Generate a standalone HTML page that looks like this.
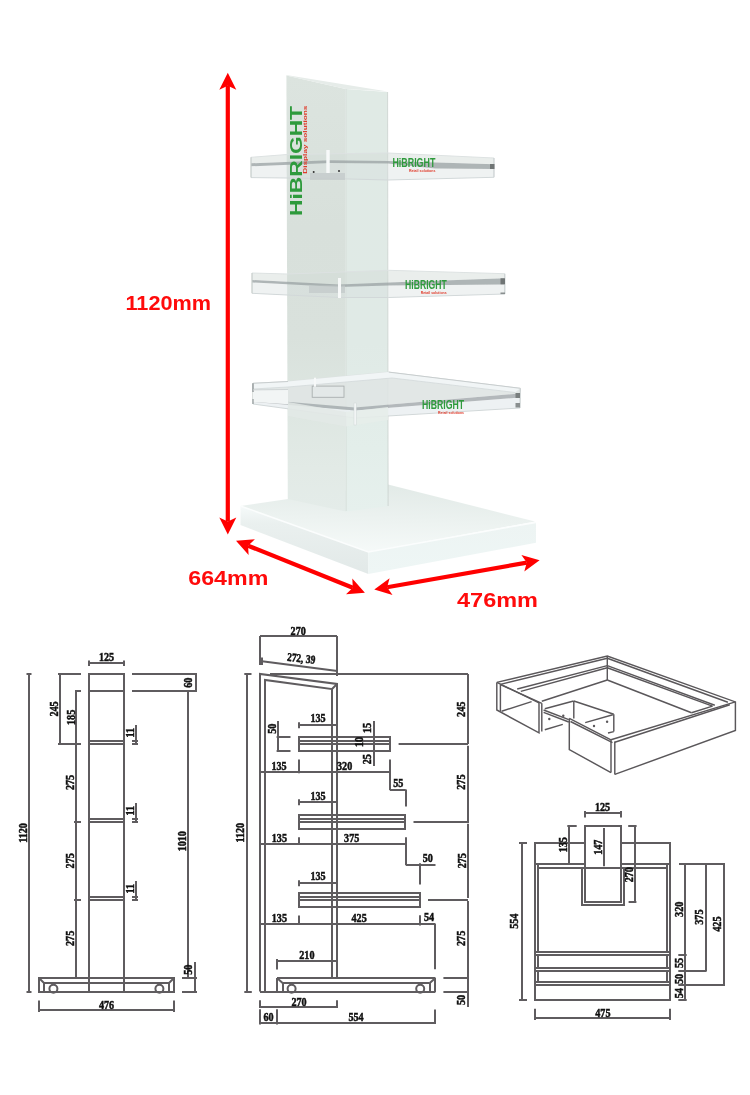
<!DOCTYPE html>
<html><head><meta charset="utf-8">
<style>
html,body{margin:0;padding:0;background:#fff;}
body{width:750px;height:1095px;overflow:hidden;font-family:"Liberation Sans",sans-serif;}
svg{display:block;will-change:transform;}
.ln{stroke:#5f5c5f;stroke-width:2;fill:none;}
.tn{stroke:#5a575a;stroke-width:1.45;fill:none;}
.t{font-family:"Liberation Serif",serif;font-weight:bold;font-size:11.8px;fill:#111;stroke:#111;stroke-width:0.5px;}
.r{font-family:"Liberation Sans",sans-serif;font-weight:bold;font-size:20px;fill:#ff0b0b;}
</style></head>
<body>
<svg width="750" height="1095" viewBox="0 0 750 1095">

<defs>
<linearGradient id="gL" x1="0" y1="0" x2="0" y2="1">
<stop offset="0" stop-color="#dce4df"/><stop offset="0.35" stop-color="#d8e0db"/><stop offset="0.6" stop-color="#d9e1dc"/><stop offset="0.75" stop-color="#dde6e1"/><stop offset="0.9" stop-color="#e2eae6"/><stop offset="1" stop-color="#e4ece9"/>
</linearGradient>
<linearGradient id="gR" x1="0" y1="0" x2="0" y2="1">
<stop offset="0" stop-color="#e0eae5"/><stop offset="0.6" stop-color="#e0eae6"/><stop offset="0.85" stop-color="#e3eeea"/><stop offset="1" stop-color="#e6f0ed"/>
</linearGradient>
<linearGradient id="gBL" x1="0" y1="0" x2="0" y2="1">
<stop offset="0" stop-color="#f6fafa"/><stop offset="0.25" stop-color="#eaf0ef"/><stop offset="1" stop-color="#e2e9e8"/>
</linearGradient>
<linearGradient id="gBR" x1="0" y1="0" x2="0" y2="1">
<stop offset="0" stop-color="#edf4f3"/><stop offset="1" stop-color="#eef6f5"/>
</linearGradient>
<linearGradient id="gBT" x1="0.5" y1="0" x2="0.35" y2="1">
<stop offset="0" stop-color="#e2eae7"/><stop offset="0.5" stop-color="#ecf2f0"/><stop offset="1" stop-color="#f6faf9"/>
</linearGradient>
</defs>
<polygon points="240.5,506 288,499 388,484.4 535,521.5 368.4,552" fill="url(#gBT)"/>
<polygon points="240.5,506 368.4,552 368.4,574 240.5,525" fill="url(#gBL)"/>
<polygon points="368.4,552 536,522.4 536,542.7 368.4,574" fill="url(#gBR)"/>
<polyline points="240.5,506 368.4,552 536,522.4" stroke="#fbfdfd" stroke-width="1.5" fill="none"/>
<polygon points="286.4,75.4 345.8,89 345.8,511.6 287.8,499" fill="url(#gL)"/>
<polygon points="345.8,89 387.5,92 388.1,506.3 345.8,511.6" fill="url(#gR)"/>
<polygon points="286.4,75 387.5,91.4 345.8,89 286.4,75.4" fill="#e6ece9"/>
<line x1="346.2" y1="89" x2="346.2" y2="511" stroke="#dae2de" stroke-width="1.2"/>
<line x1="387.6" y1="92" x2="388.1" y2="506" stroke="#c9d1cd" stroke-width="0.8"/>

<polygon points="251,157.3 287,154.5 388,153 494,158 494,164.3 388,161 330,160.3 251,163.3" fill="#d3dbd7" fill-opacity="0.47"/>
<polygon points="251,166.3 330,163 388,163.5 435,168.5 494,169 494,177.3 388,180 330,178.5 251,177.6" fill="#d6dedf" fill-opacity="0.4"/>
<polygon points="251,163.3 330,160.3 388,161 494,164.3 494,169 435,168.5 388,163.5 330,163 251,166.3" fill="#a0a8a9" fill-opacity="0.85"/>
<polyline points="251,177.6 330,178.5 388,180 494,177.3" stroke="#d2d8d9" stroke-width="1" fill="none"/>
<polyline points="251,157.3 287,154.5 388,153 494,158" stroke="#dde2e2" stroke-width="1" fill="none"/>
<line x1="251" y1="157.3" x2="251" y2="177.6" stroke="#c5cbc9" stroke-width="1.2"/>
<line x1="494" y1="158" x2="494" y2="177.3" stroke="#c9cfd0" stroke-width="1.2"/>
<polygon points="252,273 287,274 388.7,270.3 504.8,273.7 504.8,278.3 388.7,282.5 339,284.5 252,280" fill="#d3dbd7" fill-opacity="0.47"/>
<polygon points="252,282.5 339,287 388.7,285.5 504.8,284.5 504.8,294 388.7,297.5 339,297.5 252,293.3" fill="#d6dedf" fill-opacity="0.4"/>
<polygon points="252,280 339,284.5 388.7,282.5 504.8,278.3 504.8,284.5 388.7,285.5 339,287 252,282.5" fill="#a0a8a9" fill-opacity="0.85"/>
<polyline points="252,293.3 339,297.5 388.7,297.5 504.8,294" stroke="#d2d8d9" stroke-width="1" fill="none"/>
<polyline points="252,273 287,274 388.7,270.3 504.8,273.7" stroke="#dde2e2" stroke-width="1" fill="none"/>
<line x1="252" y1="273" x2="252" y2="293.3" stroke="#c5cbc9" stroke-width="1.2"/>
<line x1="504.8" y1="273.7" x2="504.8" y2="294" stroke="#c9cfd0" stroke-width="1.2"/>
<polygon points="253,383.3 288,381.5 388.7,372.1 520.3,388.3 520,393.5 355,407.5 253,399" fill="#dfe5e4" fill-opacity="0.92"/>
<polygon points="253,402 355,410.5 520,397.5 520,408 355,418 253,404" fill="#ebf0f2" fill-opacity="0.9"/>
<polygon points="253,399 355,407.5 520,393.5 520,397.5 355,410.5 253,402" fill="#a6acaf" fill-opacity="0.85"/>
<polyline points="253,404 355,418 520,408" stroke="#d2d8d9" stroke-width="1" fill="none"/>
<polyline points="253,383.3 288,381.5 388.7,372.1 520.3,388.3" stroke="#dde2e2" stroke-width="1" fill="none"/>
<line x1="253" y1="383.3" x2="253" y2="404" stroke="#c5cbc9" stroke-width="1.2"/>
<line x1="520.3" y1="388.3" x2="520" y2="408" stroke="#c9cfd0" stroke-width="1.2"/>
<polygon points="288,402 346,412 346,426.5 288,416" fill="#e3e9e6" fill-opacity="0.85"/>
<polygon points="346,412 388,407 388,420 346,426.5" fill="#e6edea" fill-opacity="0.85"/>
<polygon points="253,383.3 288,381.5 388.7,372.1 520.3,388.3 515,392.5 392,378 288,387 253,389" fill="#f1f5f6"/>
<polyline points="253,389 288,387 392,378 515,392.5" stroke="#d3d9da" stroke-width="0.8" fill="none"/>
<polyline points="253,383.3 288,381.5" stroke="#c8cdce" stroke-width="1" fill="none"/>
<polyline points="388.7,372.1 520.3,388.3" stroke="#c8cdce" stroke-width="1" fill="none"/>
<rect x="490" y="164" width="4.5" height="5" fill="#707575"/>
<rect x="500.5" y="278.3" width="4.5" height="6" fill="#707575"/>
<rect x="500.5" y="292.5" width="4.5" height="1.6" fill="#8a8f8f"/>
<rect x="515.5" y="393" width="4.5" height="5" fill="#7a7f7f"/>
<rect x="515.5" y="403" width="4.5" height="4.5" fill="#8a8f8f"/>
<rect x="310" y="173" width="35" height="7" fill="#c3c9ca" fill-opacity="0.75"/>
<rect x="326.3" y="150" width="3.4" height="23" fill="#f7f9f9"/>
<circle cx="313.7" cy="172" r="1" fill="#333"/><circle cx="339" cy="171" r="1" fill="#333"/>
<rect x="309" y="285.5" width="36" height="7.5" fill="#c3c9ca" fill-opacity="0.75"/>
<rect x="338" y="278" width="3" height="20" fill="#f7f9f9"/>
<rect x="312.2" y="386.1" width="31.8" height="11.2" fill="#e4e9e9" fill-opacity="0.8" stroke="#a9afb0" stroke-width="0.9"/>
<polygon points="253,390 288,389.5 288,404.2 253,402" fill="#f2f5f5"/>
<line x1="253" y1="383.3" x2="253" y2="392" stroke="#9da3a4" stroke-width="1.6"/>
<line x1="253" y1="399" x2="253" y2="404" stroke="#a9afb0" stroke-width="1.6"/>
<line x1="253" y1="389.9" x2="288" y2="389.5" stroke="#cfd4d5" stroke-width="1"/>
<rect x="314" y="377.7" width="2" height="9" fill="#f7f9f9"/>
<rect x="354" y="403" width="2.2" height="22" fill="#f4f7f7" stroke="#cfd5d6" stroke-width="0.5"/>
<text x="392.4" y="166.7" font-family="Liberation Sans" font-weight="bold" font-size="12.3" fill="#2e9a3c" textLength="43" lengthAdjust="spacingAndGlyphs">HiBRIGHT</text>
<text x="408.9" y="171.7" font-family="Liberation Sans" font-weight="bold" font-size="3.6" fill="#e03a2a" textLength="26.5" lengthAdjust="spacingAndGlyphs">Retail solutions</text>
<text x="405.1" y="289.3" font-family="Liberation Sans" font-weight="bold" font-size="13.0" fill="#2e9a3c" textLength="41.6" lengthAdjust="spacingAndGlyphs">HiBRIGHT</text>
<text x="420.70000000000005" y="294.3" font-family="Liberation Sans" font-weight="bold" font-size="3.6" fill="#e03a2a" textLength="26" lengthAdjust="spacingAndGlyphs">Retail solutions</text>
<text x="422" y="408.5" font-family="Liberation Sans" font-weight="bold" font-size="13.0" fill="#2e9a3c" textLength="42" lengthAdjust="spacingAndGlyphs">HiBRIGHT</text>
<text x="438" y="413.5" font-family="Liberation Sans" font-weight="bold" font-size="3.6" fill="#e03a2a" textLength="26" lengthAdjust="spacingAndGlyphs">Retail solutions</text>
<text transform="translate(301.8,216) rotate(-90)" font-family="Liberation Sans" font-weight="bold" font-size="16.5" fill="#2e9a3c" textLength="110" lengthAdjust="spacingAndGlyphs">HiBRIGHT</text>
<text transform="translate(307,173.7) rotate(-90)" font-family="Liberation Sans" font-weight="bold" font-size="5" fill="#e03a2a" textLength="68" lengthAdjust="spacingAndGlyphs">Display solutions</text>
<polygon points="227.8,534.4 219.3,517.4 227.8,521.4 236.3,517.4" fill="#ff0000"/>
<polygon points="227.8,72.7 236.3,89.7 227.8,85.7 219.3,89.7" fill="#ff0000"/>
<line x1="227.8" y1="85.7" x2="227.8" y2="521.4" stroke="#ff0000" stroke-width="4.2"/>
<polygon points="364.9,592.7 346.0,594.2 352.8,587.8 352.3,578.5" fill="#ff0000"/>
<polygon points="236.0,540.8 254.9,539.3 248.1,545.7 248.6,555.0" fill="#ff0000"/>
<line x1="248.1" y1="545.7" x2="352.8" y2="587.8" stroke="#ff0000" stroke-width="4.2"/>
<polygon points="539.6,560.3 524.3,571.6 526.8,562.6 521.4,554.9" fill="#ff0000"/>
<polygon points="374.3,589.6 389.6,578.3 387.1,587.3 392.5,595.0" fill="#ff0000"/>
<line x1="387.1" y1="587.3" x2="526.8" y2="562.6" stroke="#ff0000" stroke-width="4.2"/>
<text class="r" x="125.5" y="310.4" textLength="85.5" lengthAdjust="spacingAndGlyphs">1120mm</text>
<text class="r" x="188.3" y="584.8" textLength="80" lengthAdjust="spacingAndGlyphs">664mm</text>
<text class="r" x="457" y="607.3" textLength="81" lengthAdjust="spacingAndGlyphs">476mm</text>
<line x1="29" y1="674" x2="29" y2="992" class="ln"/>
<line x1="26.5" y1="674" x2="31.5" y2="674" class="ln"/>
<line x1="26.5" y1="992" x2="31.5" y2="992" class="ln"/>
<text class="t" transform="translate(23,833) rotate(-90) scale(0.86,1)" text-anchor="middle" dy="0.34em" >1120</text>
<polyline points="58,674 60,674 60,744 58,744" class="ln"/>
<line x1="58" y1="674" x2="81" y2="674" class="ln"/>
<line x1="58" y1="744" x2="81" y2="744" class="ln"/>
<line x1="76" y1="691" x2="76" y2="977" class="ln"/>
<line x1="75" y1="691" x2="81" y2="691" class="ln"/>
<line x1="74" y1="822" x2="81" y2="822" class="ln"/>
<line x1="74" y1="900" x2="81" y2="900" class="ln"/>
<text class="t" transform="translate(54,709) rotate(-90) scale(0.86,1)" text-anchor="middle" dy="0.34em" >245</text>
<text class="t" transform="translate(70.5,717.4) rotate(-90) scale(0.86,1)" text-anchor="middle" dy="0.34em" >185</text>
<text class="t" transform="translate(70,782.5) rotate(-90) scale(0.86,1)" text-anchor="middle" dy="0.34em" >275</text>
<text class="t" transform="translate(70,860.8) rotate(-90) scale(0.86,1)" text-anchor="middle" dy="0.34em" >275</text>
<text class="t" transform="translate(70,938.4) rotate(-90) scale(0.86,1)" text-anchor="middle" dy="0.34em" >275</text>
<rect x="89" y="674" width="35" height="318" class="ln"/>
<line x1="89" y1="691" x2="124" y2="691" class="ln"/>
<line x1="89" y1="741" x2="124" y2="741" class="ln"/>
<line x1="89" y1="744" x2="124" y2="744" class="ln"/>
<line x1="136" y1="725" x2="136" y2="745" class="ln"/>
<line x1="132" y1="741" x2="138" y2="741" class="ln"/>
<line x1="132" y1="744" x2="138" y2="744" class="ln"/>
<text class="t" transform="translate(130,732.6) rotate(-90) scale(0.86,1)" text-anchor="middle" dy="0.34em" >11</text>
<line x1="89" y1="819" x2="124" y2="819" class="ln"/>
<line x1="89" y1="822" x2="124" y2="822" class="ln"/>
<line x1="136" y1="803" x2="136" y2="823" class="ln"/>
<line x1="132" y1="819" x2="138" y2="819" class="ln"/>
<line x1="132" y1="822" x2="138" y2="822" class="ln"/>
<text class="t" transform="translate(130,810.6) rotate(-90) scale(0.86,1)" text-anchor="middle" dy="0.34em" >11</text>
<line x1="89" y1="897" x2="124" y2="897" class="ln"/>
<line x1="89" y1="900" x2="124" y2="900" class="ln"/>
<line x1="136" y1="881" x2="136" y2="901" class="ln"/>
<line x1="132" y1="897" x2="138" y2="897" class="ln"/>
<line x1="132" y1="900" x2="138" y2="900" class="ln"/>
<text class="t" transform="translate(130,888.6) rotate(-90) scale(0.86,1)" text-anchor="middle" dy="0.34em" >11</text>
<line x1="89" y1="663" x2="124" y2="663" class="ln"/>
<line x1="89" y1="660.5" x2="89" y2="666" class="ln"/>
<line x1="124" y1="660.5" x2="124" y2="666" class="ln"/>
<text class="t" transform="translate(106.5,657) rotate(0) scale(0.86,1)" text-anchor="middle" dy="0.34em" >125</text>
<line x1="132" y1="674" x2="197" y2="674" class="ln"/>
<line x1="132" y1="691" x2="197" y2="691" class="ln"/>
<line x1="196" y1="674" x2="196" y2="691" class="ln"/>
<text class="t" transform="translate(188.4,682.8) rotate(-90) scale(0.86,1)" text-anchor="middle" dy="0.34em" >60</text>
<line x1="188" y1="691" x2="188" y2="978" class="ln"/>
<text class="t" transform="translate(181.6,841.2) rotate(-90) scale(0.86,1)" text-anchor="middle" dy="0.34em" >1010</text>
<line x1="195" y1="962" x2="195" y2="992" class="ln"/>
<line x1="182" y1="978" x2="197" y2="978" class="ln"/>
<line x1="182" y1="992" x2="197" y2="992" class="ln"/>
<text class="t" transform="translate(188,969.7) rotate(-90) scale(0.86,1)" text-anchor="middle" dy="0.34em" >50</text>
<rect x="39" y="978" width="135" height="14" class="ln"/>
<line x1="44" y1="983" x2="169" y2="983" class="ln"/>
<line x1="39" y1="978" x2="44" y2="983" class="ln"/>
<line x1="174" y1="978" x2="169" y2="983" class="ln"/>
<line x1="44" y1="983" x2="44" y2="992" class="ln"/>
<line x1="169" y1="983" x2="169" y2="992" class="ln"/>
<circle cx="53.4" cy="988.8" r="4" class="ln"/>
<circle cx="159.4" cy="988.7" r="4" class="ln"/>
<line x1="39" y1="1010" x2="174" y2="1010" class="ln"/>
<line x1="39" y1="1000.5" x2="39" y2="1012" class="ln"/>
<line x1="174" y1="1000.5" x2="174" y2="1012" class="ln"/>
<text class="t" transform="translate(106.5,1004.8) rotate(0) scale(0.86,1)" text-anchor="middle" dy="0.34em" >476</text>
<line x1="247" y1="674" x2="247" y2="991.5" class="ln"/>
<line x1="244.3" y1="674" x2="251.5" y2="674" class="ln"/>
<line x1="244.3" y1="992" x2="251.8" y2="992" class="ln"/>
<text class="t" transform="translate(240.2,832.7) rotate(-90) scale(0.86,1)" text-anchor="middle" dy="0.34em" >1120</text>
<line x1="260" y1="636" x2="337" y2="636" class="ln"/>
<line x1="260" y1="636" x2="260" y2="665" class="ln"/>
<line x1="337" y1="636" x2="337" y2="676" class="ln"/>
<text class="t" transform="translate(298.2,631) rotate(0) scale(0.86,1)" text-anchor="middle" dy="0.34em" >270</text>
<line x1="262" y1="661.2" x2="337.4" y2="671" class="ln"/>
<line x1="262" y1="657.5" x2="262" y2="665" class="ln"/>
<line x1="337" y1="667.5" x2="337" y2="675" class="ln"/>
<text class="t" transform="translate(301.2,658.3) rotate(6) scale(0.8,1)" text-anchor="middle" dy="0.34em">272, 39</text>
<polyline points="260,991.5 260,674 337,684 337,977" class="ln"/>
<line x1="270" y1="674" x2="468" y2="674" class="ln"/>
<polyline points="265,991.5 265,680 332,689 332,977" class="ln"/>
<line x1="332" y1="689" x2="337" y2="684" class="ln"/>
<line x1="298" y1="737" x2="391" y2="737" class="ln"/>
<line x1="298" y1="751" x2="391" y2="751" class="ln"/>
<line x1="299" y1="737" x2="299" y2="751" class="ln"/>
<line x1="390" y1="737" x2="390" y2="751" class="ln"/>
<line x1="299" y1="741" x2="390" y2="741" class="ln"/>
<line x1="299" y1="744" x2="390" y2="744" class="ln"/>
<line x1="298" y1="815" x2="406" y2="815" class="ln"/>
<line x1="298" y1="829" x2="406" y2="829" class="ln"/>
<line x1="299" y1="815" x2="299" y2="829" class="ln"/>
<line x1="405" y1="815" x2="405" y2="829" class="ln"/>
<line x1="299" y1="819" x2="405" y2="819" class="ln"/>
<line x1="299" y1="822" x2="405" y2="822" class="ln"/>
<line x1="298" y1="893" x2="421" y2="893" class="ln"/>
<line x1="298" y1="907" x2="421" y2="907" class="ln"/>
<line x1="299" y1="893" x2="299" y2="907" class="ln"/>
<line x1="420" y1="893" x2="420" y2="907" class="ln"/>
<line x1="299" y1="897" x2="420" y2="897" class="ln"/>
<line x1="299" y1="900" x2="420" y2="900" class="ln"/>
<line x1="299" y1="725" x2="337" y2="725" class="ln"/>
<line x1="299" y1="722.3" x2="299" y2="728.3" class="ln"/>
<text class="t" transform="translate(318,718.4) rotate(0) scale(0.86,1)" text-anchor="middle" dy="0.34em" >135</text>
<line x1="299" y1="802" x2="337" y2="802" class="ln"/>
<line x1="299" y1="799.3" x2="299" y2="805.3" class="ln"/>
<text class="t" transform="translate(318,795.7) rotate(0) scale(0.86,1)" text-anchor="middle" dy="0.34em" >135</text>
<line x1="299" y1="883" x2="337" y2="883" class="ln"/>
<line x1="299" y1="880.2" x2="299" y2="886.2" class="ln"/>
<text class="t" transform="translate(318,876.2) rotate(0) scale(0.86,1)" text-anchor="middle" dy="0.34em" >135</text>
<line x1="260" y1="772" x2="390" y2="772" class="ln"/>
<line x1="299" y1="759.5" x2="299" y2="773.3" class="ln"/>
<line x1="390" y1="759.4" x2="390" y2="790" class="ln"/>
<text class="t" transform="translate(279,765.6) rotate(0) scale(0.86,1)" text-anchor="middle" dy="0.34em" >135</text>
<text class="t" transform="translate(344.6,765.6) rotate(0) scale(0.86,1)" text-anchor="middle" dy="0.34em" >320</text>
<line x1="260" y1="844" x2="405.7" y2="844" class="ln"/>
<line x1="299" y1="837.3" x2="299" y2="845" class="ln"/>
<line x1="406" y1="837.2" x2="406" y2="865" class="ln"/>
<text class="t" transform="translate(279.4,838.3) rotate(0) scale(0.86,1)" text-anchor="middle" dy="0.34em" >135</text>
<text class="t" transform="translate(351.7,838.3) rotate(0) scale(0.86,1)" text-anchor="middle" dy="0.34em" >375</text>
<line x1="260" y1="924" x2="435" y2="924" class="ln"/>
<line x1="299" y1="915.4" x2="299" y2="925" class="ln"/>
<line x1="420" y1="915.2" x2="420" y2="925.5" class="ln"/>
<line x1="435" y1="923.6" x2="435" y2="969.3" class="ln"/>
<text class="t" transform="translate(279.4,918) rotate(0) scale(0.86,1)" text-anchor="middle" dy="0.34em" >135</text>
<text class="t" transform="translate(359.1,918) rotate(0) scale(0.86,1)" text-anchor="middle" dy="0.34em" >425</text>
<text class="t" transform="translate(429,916.7) rotate(0) scale(0.86,1)" text-anchor="middle" dy="0.34em" >54</text>
<line x1="389.8" y1="790" x2="405.7" y2="790" class="ln"/>
<line x1="406" y1="789.6" x2="406" y2="806.4" class="ln"/>
<text class="t" transform="translate(398.2,783.1) rotate(0) scale(0.86,1)" text-anchor="middle" dy="0.34em" >55</text>
<line x1="405.7" y1="865" x2="435.5" y2="865" class="ln"/>
<line x1="420" y1="863.3" x2="420" y2="884.4" class="ln"/>
<text class="t" transform="translate(427.7,858.3) rotate(0) scale(0.86,1)" text-anchor="middle" dy="0.34em" >50</text>
<line x1="278" y1="721" x2="278" y2="751" class="ln"/>
<line x1="276.6" y1="737" x2="290.5" y2="737" class="ln"/>
<line x1="276.6" y1="751" x2="290.5" y2="751" class="ln"/>
<text class="t" transform="translate(271.5,728.8) rotate(-90) scale(0.86,1)" text-anchor="middle" dy="0.34em" >50</text>
<line x1="374" y1="721" x2="374" y2="766" class="ln"/>
<text class="t" transform="translate(367,728) rotate(-90) scale(0.86,1)" text-anchor="middle" dy="0.34em" >15</text>
<text class="t" transform="translate(359,742) rotate(-90) scale(0.86,1)" text-anchor="middle" dy="0.34em" >10</text>
<text class="t" transform="translate(367,759.2) rotate(-90) scale(0.86,1)" text-anchor="middle" dy="0.34em" >25</text>
<line x1="398.6" y1="744" x2="468" y2="744" class="ln"/>
<line x1="413.5" y1="822" x2="468" y2="822" class="ln"/>
<line x1="428" y1="900" x2="468" y2="900" class="ln"/>
<line x1="468" y1="674" x2="468" y2="744" class="ln"/>
<line x1="468" y1="745.7" x2="468" y2="823" class="ln"/>
<line x1="468" y1="823.7" x2="468" y2="898" class="ln"/>
<line x1="468" y1="901" x2="468" y2="1007" class="ln"/>
<line x1="443.4" y1="978" x2="468.2" y2="978" class="ln"/>
<line x1="443.4" y1="992" x2="468.2" y2="992" class="ln"/>
<text class="t" transform="translate(460.7,709.3) rotate(-90) scale(0.86,1)" text-anchor="middle" dy="0.34em" >245</text>
<text class="t" transform="translate(461.1,782.1) rotate(-90) scale(0.86,1)" text-anchor="middle" dy="0.34em" >275</text>
<text class="t" transform="translate(461.5,860.7) rotate(-90) scale(0.86,1)" text-anchor="middle" dy="0.34em" >275</text>
<text class="t" transform="translate(461,938.4) rotate(-90) scale(0.86,1)" text-anchor="middle" dy="0.34em" >275</text>
<text class="t" transform="translate(461,1000) rotate(-90) scale(0.86,1)" text-anchor="middle" dy="0.34em" >50</text>
<line x1="277" y1="978" x2="435.4" y2="978" class="ln"/>
<line x1="282.6" y1="983" x2="429.8" y2="983" class="ln"/>
<line x1="260" y1="992" x2="435.4" y2="992" class="ln"/>
<line x1="277" y1="978" x2="277" y2="991.5" class="ln"/>
<line x1="435" y1="978" x2="435" y2="992" class="ln"/>
<line x1="277" y1="978" x2="282.6" y2="983" class="ln"/>
<line x1="435.4" y1="978" x2="429.8" y2="983" class="ln"/>
<line x1="283" y1="983" x2="283" y2="991.5" class="ln"/>
<line x1="430" y1="983" x2="430" y2="991.5" class="ln"/>
<circle cx="291.6" cy="988.7" r="4" class="ln"/>
<circle cx="420.2" cy="988.8" r="4" class="ln"/>
<line x1="332" y1="977" x2="332" y2="978" class="ln"/>
<line x1="337" y1="977" x2="337" y2="978" class="ln"/>
<line x1="277" y1="961" x2="337" y2="961" class="ln"/>
<line x1="277" y1="959" x2="277" y2="969.5" class="ln"/>
<text class="t" transform="translate(306.9,954.5) rotate(0) scale(0.86,1)" text-anchor="middle" dy="0.34em" >210</text>
<line x1="260" y1="1007" x2="337" y2="1007" class="ln"/>
<line x1="260" y1="1000.3" x2="260" y2="1008" class="ln"/>
<line x1="337" y1="1000.3" x2="337" y2="1008" class="ln"/>
<text class="t" transform="translate(299,1002) rotate(0) scale(0.86,1)" text-anchor="middle" dy="0.34em" >270</text>
<line x1="260" y1="1023" x2="435" y2="1023" class="ln"/>
<line x1="260" y1="1009.2" x2="260" y2="1024.5" class="ln"/>
<line x1="277" y1="1009.2" x2="277" y2="1024.5" class="ln"/>
<line x1="435" y1="1009.6" x2="435" y2="1024" class="ln"/>
<text class="t" transform="translate(268.6,1017) rotate(0) scale(0.86,1)" text-anchor="middle" dy="0.34em" >60</text>
<text class="t" transform="translate(356,1017) rotate(0) scale(0.86,1)" text-anchor="middle" dy="0.34em" >554</text>
<polyline points="496.8,682.4 607.3,656 735.4,701.9 735.4,730.5 614.8,774.4" class="tn"/>
<polyline points="496.8,682.4 496.8,710 539,732.8 539,702.8" class="tn"/>
<line x1="500.4" y1="684.6" x2="500.4" y2="711.4" class="tn"/>
<line x1="496.8" y1="682.4" x2="539" y2="702.8" class="tn"/>
<line x1="500.4" y1="684.6" x2="541.8" y2="703.4" class="tn"/>
<line x1="501.6" y1="711.2" x2="531.6" y2="701.6" class="tn"/>
<line x1="541.8" y1="703.2" x2="541.8" y2="731.6" class="tn"/>
<line x1="500.4" y1="684.4" x2="607.3" y2="658.3" class="tn"/>
<line x1="517.2" y1="689" x2="607.3" y2="665.6" class="tn"/>
<line x1="520.8" y1="691.4" x2="607.3" y2="667.8" class="tn"/>
<line x1="607.3" y1="656" x2="607.3" y2="680" class="tn"/>
<line x1="541.8" y1="701.2" x2="607.3" y2="680" class="tn"/>
<line x1="607.3" y1="680" x2="691.5" y2="712.8" class="tn"/>
<line x1="607.3" y1="658.3" x2="727.9" y2="702.2" class="tn"/>
<line x1="607.3" y1="665.6" x2="714.8" y2="705.2" class="tn"/>
<line x1="607.3" y1="667.8" x2="712.5" y2="706.1" class="tn"/>
<line x1="611" y1="739.8" x2="735.4" y2="701.9" class="tn"/>
<line x1="614.8" y1="742.2" x2="729.8" y2="704.8" class="tn"/>
<line x1="691.5" y1="712.8" x2="712.5" y2="706.1" class="tn"/>
<line x1="611" y1="739.8" x2="611" y2="772.6" class="tn"/>
<line x1="614.8" y1="741.5" x2="614.8" y2="774.4" class="tn"/>
<polyline points="569.3,718.4 569.3,749.6 611,772.6" class="tn"/>
<line x1="569.3" y1="718.4" x2="611" y2="739.8" class="tn"/>
<line x1="570.5" y1="721.5" x2="612.5" y2="742.6" class="tn"/>
<line x1="573.8" y1="701" x2="613.8" y2="714.2" class="tn"/>
<line x1="613.8" y1="714.2" x2="613.8" y2="731.6" class="tn"/>
<line x1="573.8" y1="701" x2="573.8" y2="718.4" class="tn"/>
<line x1="585.2" y1="722.6" x2="612.8" y2="714.8" class="tn"/>
<line x1="608" y1="733" x2="613.8" y2="731.6" class="tn"/>
<line x1="543.6" y1="710" x2="568.8" y2="719.6" class="tn"/>
<line x1="543.6" y1="712.4" x2="568.8" y2="722" class="tn"/>
<line x1="544.8" y1="708.8" x2="573.6" y2="701" class="tn"/>
<line x1="544.8" y1="729.8" x2="562.8" y2="724.4" class="tn"/>
<circle cx="563.3" cy="715.7" r="1.2" fill="#5a575a"/>
<circle cx="549.3" cy="719" r="1.2" fill="#5a575a"/>
<circle cx="607.1" cy="721.8" r="1.2" fill="#5a575a"/>
<circle cx="594" cy="726" r="1.2" fill="#5a575a"/>
<line x1="522" y1="843" x2="522" y2="1000" class="ln"/>
<line x1="519" y1="843" x2="527" y2="843" class="ln"/>
<line x1="519" y1="1000" x2="527" y2="1000" class="ln"/>
<text class="t" transform="translate(514.4,921.2) rotate(-90) scale(0.86,1)" text-anchor="middle" dy="0.34em" >554</text>
<line x1="535" y1="843" x2="585" y2="843" class="ln"/>
<line x1="621" y1="843" x2="670" y2="843" class="ln"/>
<line x1="535" y1="842" x2="535" y2="1001" class="ln"/>
<line x1="670" y1="842" x2="670" y2="1001" class="ln"/>
<line x1="534" y1="1000" x2="671" y2="1000" class="ln"/>
<line x1="585" y1="826" x2="621" y2="826" class="ln"/>
<line x1="585" y1="825" x2="585" y2="868" class="ln"/>
<line x1="621" y1="825" x2="621" y2="868" class="ln"/>
<line x1="604" y1="828" x2="604" y2="866.3" class="ln"/>
<line x1="535" y1="864" x2="585" y2="864" class="ln"/>
<line x1="621" y1="864" x2="670" y2="864" class="ln"/>
<line x1="538" y1="868" x2="667" y2="868" class="ln"/>
<line x1="538" y1="864" x2="538" y2="952" class="ln"/>
<line x1="667" y1="864" x2="667" y2="952" class="ln"/>
<line x1="538" y1="955" x2="538" y2="968" class="ln"/>
<line x1="667" y1="955" x2="667" y2="968" class="ln"/>
<line x1="538" y1="971" x2="538" y2="982" class="ln"/>
<line x1="667" y1="971" x2="667" y2="982" class="ln"/>
<polyline points="582,868 582,905 624,905 624,868" class="ln"/>
<polyline points="585,868 585,902 621,902 621,868" class="ln"/>
<line x1="535" y1="952" x2="670" y2="952" class="ln"/>
<line x1="535" y1="955" x2="670" y2="955" class="ln"/>
<line x1="535" y1="968" x2="670" y2="968" class="ln"/>
<line x1="535" y1="971" x2="670" y2="971" class="ln"/>
<line x1="535" y1="982" x2="670" y2="982" class="ln"/>
<line x1="535" y1="985" x2="670" y2="985" class="ln"/>
<line x1="569" y1="825.7" x2="569" y2="864" class="ln"/>
<line x1="567.3" y1="826" x2="576.7" y2="826" class="ln"/>
<text class="t" transform="translate(562.7,844.7) rotate(-90) scale(0.86,1)" text-anchor="middle" dy="0.34em" >135</text>
<text class="t" transform="translate(597.9,847.2) rotate(-90) scale(0.86,1)" text-anchor="middle" dy="0.34em" >147</text>
<line x1="585" y1="813" x2="621" y2="813" class="ln"/>
<line x1="585" y1="811" x2="585" y2="817.6" class="ln"/>
<line x1="621" y1="811" x2="621" y2="817.6" class="ln"/>
<text class="t" transform="translate(602.5,806.7) rotate(0) scale(0.86,1)" text-anchor="middle" dy="0.34em" >125</text>
<line x1="635" y1="825.7" x2="635" y2="902.4" class="ln"/>
<line x1="628.2" y1="826" x2="636.6" y2="826" class="ln"/>
<line x1="628.6" y1="902" x2="636.4" y2="902" class="ln"/>
<text class="t" transform="translate(628.9,874.7) rotate(-90) scale(0.86,1)" text-anchor="middle" dy="0.34em" >270</text>
<line x1="679" y1="864" x2="725" y2="864" class="ln"/>
<line x1="685" y1="864" x2="685" y2="1000" class="ln"/>
<line x1="678.3" y1="955" x2="686.7" y2="955" class="ln"/>
<line x1="706" y1="864" x2="706" y2="971" class="ln"/>
<line x1="678.3" y1="971" x2="706.6" y2="971" class="ln"/>
<line x1="724" y1="864" x2="724" y2="985" class="ln"/>
<line x1="678.3" y1="985" x2="725" y2="985" class="ln"/>
<line x1="678.3" y1="1000" x2="686.7" y2="1000" class="ln"/>
<text class="t" transform="translate(678.9,909.3) rotate(-90) scale(0.86,1)" text-anchor="middle" dy="0.34em" >320</text>
<text class="t" transform="translate(698.8,917.1) rotate(-90) scale(0.86,1)" text-anchor="middle" dy="0.34em" >375</text>
<text class="t" transform="translate(717,924.1) rotate(-90) scale(0.86,1)" text-anchor="middle" dy="0.34em" >425</text>
<text class="t" transform="translate(678.7,963) rotate(-90) scale(0.86,1)" text-anchor="middle" dy="0.34em" >55</text>
<text class="t" transform="translate(678.7,979) rotate(-90) scale(0.86,1)" text-anchor="middle" dy="0.34em" >50</text>
<text class="t" transform="translate(678.7,993.3) rotate(-90) scale(0.86,1)" text-anchor="middle" dy="0.34em" >54</text>
<line x1="535" y1="1018" x2="670" y2="1018" class="ln"/>
<line x1="535" y1="1008.7" x2="535" y2="1020.1" class="ln"/>
<line x1="670" y1="1008.7" x2="670" y2="1020.1" class="ln"/>
<text class="t" transform="translate(602.9,1012.7) rotate(0) scale(0.86,1)" text-anchor="middle" dy="0.34em" >475</text>
</svg>
</body></html>
